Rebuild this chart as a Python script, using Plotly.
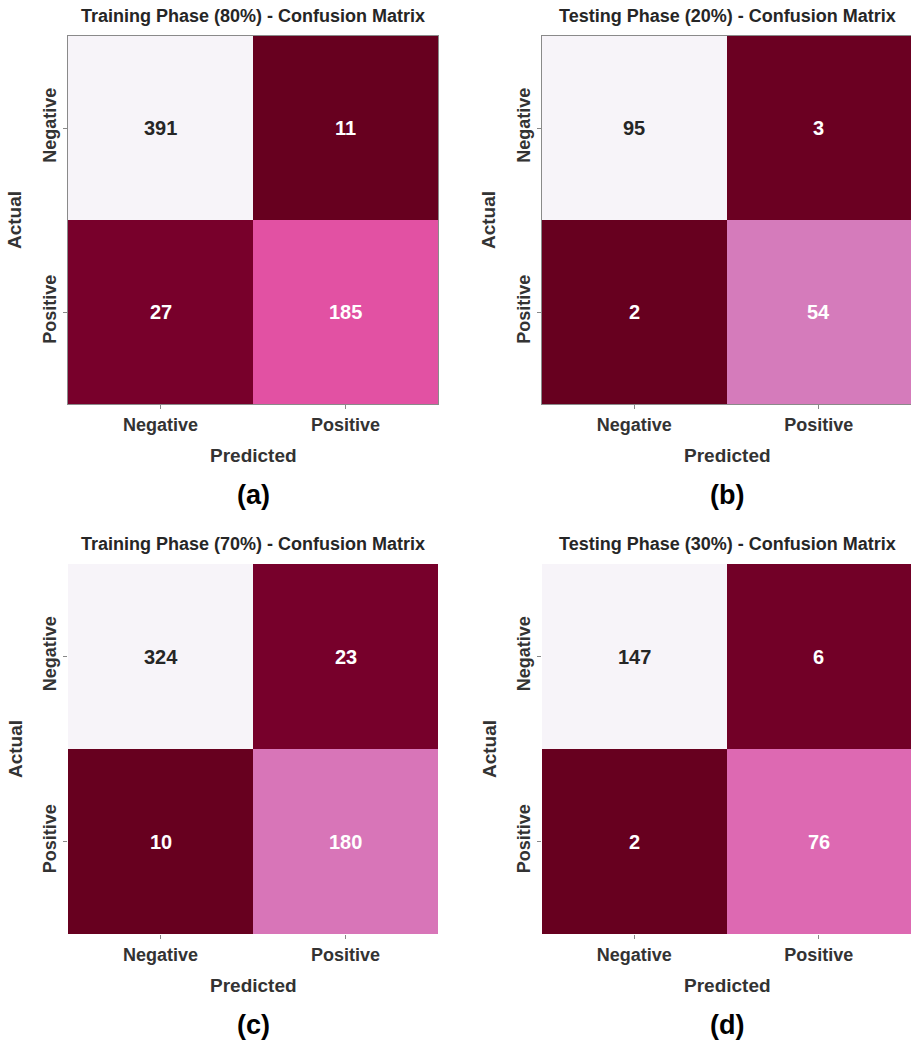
import plotly.graph_objects as go
from plotly.colors import sample_colorscale, unlabel_rgb

# Class labels shared by every matrix
classes = ["Negative", "Positive"]

# Confusion matrices, rows = actual, columns = predicted
train_80 = [[391, 11], [27, 185]]
test_20 = [[95, 3], [2, 54]]
train_70 = [[324, 23], [10, 180]]
test_30 = [[147, 6], [2, 76]]

titles = [
    "Training Phase (80%) - Confusion Matrix",
    "Testing Phase (20%) - Confusion Matrix",
    "Training Phase (70%) - Confusion Matrix",
    "Testing Phase (30%) - Confusion Matrix",
]
panel_tags = ["(a)", "(b)", "(c)", "(d)"]
matrices = [train_80, test_20, train_70, test_30]

W, H = 911, 1047
FONT = "Liberation Sans, Arial, Helvetica, sans-serif"
DARK = "#262626"

# Reversed PuRd: high counts light, low counts deep wine
purd = ["#f7f4f9", "#e7e1ef", "#d4b9da", "#c994c7", "#df65b0",
        "#e7298a", "#ce1256", "#980043", "#67001f"]
purd_r = purd[::-1]
cscale = [[i / (len(purd_r) - 1), c] for i, c in enumerate(purd_r)]

# Panel boxes in pixels: (left, right, top, bottom)
boxes = [
    (68, 438, 36, 404),
    (542, 911, 36, 404),
    (68, 438, 564, 934),
    (542, 911, 564, 934),
]
framed = [True, True, False, False]


def px_x(v):
    return v / W


def px_y(v):
    return 1 - v / H


def luminance(rgb_str):
    r, g, b = [c / 255 for c in unlabel_rgb(rgb_str)]
    lin = [c / 12.92 if c <= 0.03928 else ((c + 0.055) / 1.055) ** 2.4 for c in (r, g, b)]
    return 0.2126 * lin[0] + 0.7152 * lin[1] + 0.0722 * lin[2]


fig = go.Figure()
annotations = []

for i, (mat, title, tag, box, frame) in enumerate(zip(matrices, titles, panel_tags, boxes, framed)):
    n = i + 1
    xa = "x" if n == 1 else f"x{n}"
    ya = "y" if n == 1 else f"y{n}"
    flat = [v for row in mat for v in row]
    zmin, zmax = min(flat), max(flat)

    fig.add_trace(go.Heatmap(
        z=mat, x=classes, y=classes,
        colorscale=cscale, zmin=zmin, zmax=zmax,
        showscale=False, xaxis=xa, yaxis=ya,
        hovertemplate="Actual %{y}<br>Predicted %{x}<br>%{z}<extra></extra>",
    ))

    left, right, top, bottom = box
    axis_common = dict(
        ticks="outside", ticklen=4, tickwidth=1, tickcolor="#888888",
        tickfont=dict(family=FONT, size=18, color="#333333", weight="bold"),
        showgrid=False, zeroline=False,
        showline=frame, mirror=frame, linecolor="#8a8a8a", linewidth=1,
        fixedrange=True,
    )
    fig.update_layout({
        ("xaxis" if n == 1 else f"xaxis{n}"): dict(
            domain=[px_x(left), px_x(right)], anchor=ya, **axis_common),
        ("yaxis" if n == 1 else f"yaxis{n}"): dict(
            domain=[px_y(bottom), px_y(top)], anchor=xa,
            autorange="reversed", tickangle=-90, **axis_common),
    })

    # Cell counts, with text colour chosen against the cell colour
    for r, row in enumerate(mat):
        for c, v in enumerate(row):
            frac = (v - zmin) / (zmax - zmin) if zmax > zmin else 0
            cell = sample_colorscale(cscale, [frac])[0]
            col = DARK if luminance(cell) > 0.408 else "white"
            annotations.append(dict(
                x=classes[c], y=classes[r], xref=xa, yref=ya,
                text=str(v), showarrow=False,
                font=dict(family=FONT, size=20, color=col, weight="bold"),
            ))

    cx = (left + right) / 2
    if i % 2 == 1:
        cx = 727
    cy = (top + bottom) / 2
    annotations += [
        dict(x=px_x(cx), y=px_y(top - 20), xref="paper", yref="paper",
             text=title, showarrow=False, xanchor="center", yanchor="middle",
             font=dict(family=FONT, size=18, color=DARK, weight="bold")),
        dict(x=px_x(cx), y=px_y(bottom + 51), xref="paper", yref="paper",
             text="Predicted", showarrow=False, xanchor="center", yanchor="middle",
             font=dict(family=FONT, size=19, color="#333333", weight="bold")),
        dict(x=px_x(left - 53), y=px_y(cy), xref="paper", yref="paper",
             text="Actual", showarrow=False, textangle=-90,
             xanchor="center", yanchor="middle",
             font=dict(family=FONT, size=19, color="#333333", weight="bold")),
        dict(x=px_x(cx), y=px_y(bottom + 91), xref="paper", yref="paper",
             text=tag, showarrow=False, xanchor="center", yanchor="middle",
             font=dict(family=FONT, size=27, color="black", weight="bold")),
    ]

fig.update_layout(
    width=W, height=H,
    margin=dict(l=0, r=0, t=0, b=0),
    paper_bgcolor="white", plot_bgcolor="white",
    annotations=annotations,
    showlegend=False,
)

fig.write_html("out.html", config={"displayModeBar": False})
